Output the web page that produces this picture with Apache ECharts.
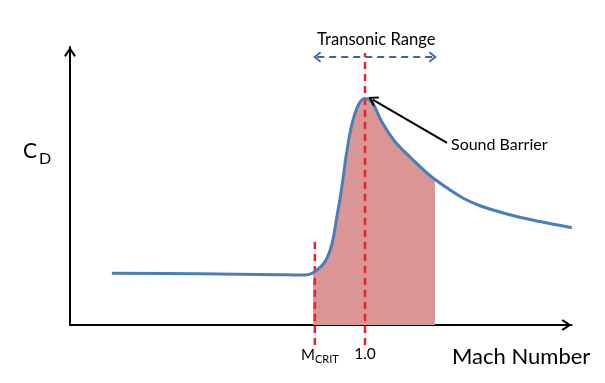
<!DOCTYPE html>
<html>
<head>
<meta charset="utf-8">
<script src="https://cdn.jsdelivr.net/npm/echarts@6/dist/echarts.min.js"></script>
<style>html,body{margin:0;padding:0;background:#fff}#c{width:605px;height:383px}</style>
</head>
<body>
<div id="c"></div>
<script>
// Drag coefficient curve vs Mach number
const curveMach = [0.142, 0.44, 0.70, 0.797, 0.824, 0.864, 0.887, 0.904, 0.921, 0.938, 0.955, 0.977, 1.0, 1.023, 1.057, 1.102, 1.158, 1.222, 1.288, 1.333, 1.390, 1.446, 1.514, 1.593, 1.701];
const curveCd   = [0.186, 0.184, 0.181, 0.180, 0.188, 0.227, 0.288, 0.385, 0.493, 0.622, 0.719, 0.791, 0.815, 0.803, 0.731, 0.659, 0.599, 0.536, 0.486, 0.456, 0.429, 0.410, 0.390, 0.372, 0.350];
// Shaded (transonic drag rise) region
const fillMach = [0.824, 0.864, 0.887, 0.904, 0.921, 0.938, 0.955, 0.977, 1.0, 1.023, 1.057, 1.102, 1.158, 1.222, 1.237];
const fillCd   = [0.188, 0.227, 0.288, 0.385, 0.493, 0.622, 0.719, 0.791, 0.815, 0.803, 0.731, 0.659, 0.599, 0.536, 0.525];
// Reference Mach numbers
const machCrit = 0.83;
const machOne = 1.0;
const mcritLineCd = [-0.072, 0.302];
const sonicLineCd = [-0.072, 0.978];
// Transonic range arrow
const transonicMach = [0.838, 1.230];
const transonicCd = 0.964;
// Sound barrier pointer (tail -> head)
const pointerMach = [1.278, 1.026];
const pointerCd = [0.655, 0.811];
// Tick labels
const tickValues = [machCrit, machOne];
const tickLabels = ['M_CRIT', '1.0'];

const FONT = 'Lato';
const chevron = 'path://M5,0 L10,7.4 L8.7,8.6 L5,3.1 L1.3,8.6 L0,7.4 Z';

const chart = echarts.init(document.getElementById('c'), null, {renderer: 'canvas'});
const zip = (a, b) => a.map((v, i) => [v, b[i]]);

chart.setOption({
  animation: false,
  backgroundColor: '#fff',
  grid: {left: 70, right: 33.5, top: 47, bottom: 58, containLabel: false},
  xAxis: {
    type: 'value', min: 0, max: 1.7,
    splitLine: {show: false},
    axisTick: {show: false},
    axisLine: {
      show: true, onZero: false,
      symbol: ['none', chevron], symbolSize: [12, 10], symbolOffset: [0, -5],
      lineStyle: {color: '#000', width: 2}
    },
    axisLabel: {
      customValues: tickValues,
      margin: 21,
      fontFamily: FONT,
      color: '#000',
      formatter: function (v) {
        const i = tickValues.indexOf(v);
        const t = i >= 0 ? tickLabels[i] : '';
        if (t === 'M_CRIT') return '{m|M}{s|CRIT}';
        return '{n|' + t + '}';
      },
      rich: {
        m: {fontFamily: FONT, fontSize: 15, color: '#000', padding: [0, 0, 0, 10]},
        s: {fontFamily: FONT, fontSize: 11, color: '#000', padding: [8, 0, 0, 0]},
        n: {fontFamily: FONT, fontSize: 15.5, color: '#000'}
      }
    }
  },
  yAxis: {
    type: 'value', min: 0, max: 1.0,
    splitLine: {show: false},
    axisTick: {show: false},
    axisLabel: {show: false},
    axisLine: {
      show: true, onZero: false,
      symbol: ['none', chevron], symbolSize: [12, 10], symbolOffset: [0, -5],
      lineStyle: {color: '#000', width: 2}
    }
  },
  graphic: [
    {type: 'text', left: 23, top: 141, style: {text: 'C', font: '21px ' + FONT, fill: '#000'}},
    {type: 'text', left: 39, top: 151, style: {text: 'D', font: '16px ' + FONT, fill: '#000'}},
    {type: 'text', left: 317, top: 31, style: {text: 'Transonic Range', font: '16.6px ' + FONT, fill: '#000'}},
    {type: 'text', left: 451, top: 137, style: {text: 'Sound Barrier', font: '16px ' + FONT, fill: '#000'}},
    {type: 'text', left: 452, top: 346, style: {text: 'Mach Number', font: '22px ' + FONT, fill: '#000'}}
  ],
  series: [
    {
      type: 'line', name: 'fill', z: 1,
      data: zip(fillMach, fillCd),
      smooth: 0.35, symbol: 'none',
      lineStyle: {width: 0},
      areaStyle: {color: '#d99694', opacity: 1}
    },
    {
      type: 'line', name: 'mcrit', z: 3, clip: false,
      data: [[machCrit, mcritLineCd[0]], [machCrit, mcritLineCd[1]]],
      symbol: 'none',
      lineStyle: {color: '#e8232a', width: 2.5, type: [7, 5]}
    },
    {
      type: 'line', name: 'sonic', z: 3, clip: false,
      data: [[machOne, sonicLineCd[0]], [machOne, sonicLineCd[1]]],
      symbol: 'none',
      lineStyle: {color: '#e8232a', width: 2.5, type: [7, 5]}
    },
    {
      type: 'line', name: 'cd', z: 4,
      data: zip(curveMach, curveCd),
      smooth: 0.35, symbol: 'none',
      lineStyle: {color: '#4a7ebb', width: 3}
    },
    {
      type: 'line', name: 'transonic', z: 5, clip: false,
      data: [],
      markLine: {
        silent: true, animation: false,
        symbol: [chevron, chevron], symbolSize: [11, 8],
        label: {show: false},
        lineStyle: {color: '#3f679b', width: 2, type: [7, 5]},
        emphasis: {disabled: true},
        data: [[{coord: [transonicMach[0], transonicCd]}, {coord: [transonicMach[1], transonicCd]}]]
      }
    },
    {
      type: 'line', name: 'pointer', z: 5, clip: false,
      data: [],
      markLine: {
        silent: true, animation: false,
        symbol: ['none', chevron], symbolSize: [11, 10],
        label: {show: false},
        lineStyle: {color: '#000', width: 2, type: 'solid'},
        emphasis: {disabled: true},
        data: [[{coord: [pointerMach[0], pointerCd[0]]}, {coord: [pointerMach[1], pointerCd[1]]}]]
      }
    }
  ]
});
</script>
</body>
</html>
